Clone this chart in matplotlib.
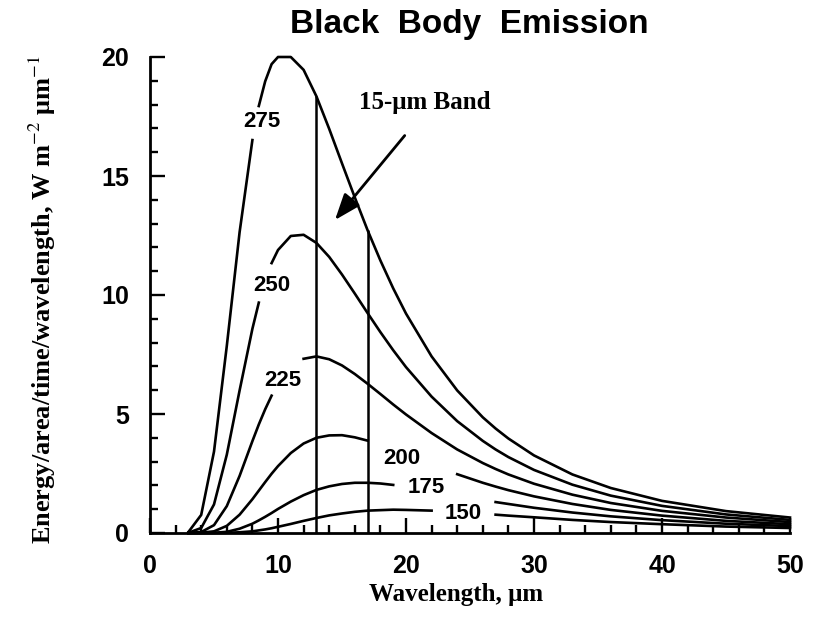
import matplotlib.pyplot as plt
import numpy as np
from matplotlib.ticker import MultipleLocator

plt.rcParams["mathtext.fontset"] = "stix"

# emission per unit wavelength, W m-2 um-1, read at each wavelength (um)
wavelength = [3, 4, 5, 6, 7, 8, 8.5, 9, 9.5, 10, 11, 12, 13, 14, 15, 16, 17, 18, 19, 20,
              22, 24, 26, 27, 28, 30, 33, 36, 40, 45, 50]
temps = [275, 250, 225, 200, 175, 150]
e275 = [0.04, 0.76, 3.42, 7.86, 12.64, 16.51, 17.94, 18.98, 19.70, 20.0, 20.0, 19.46, 18.35,
        16.98, 15.53, 14.10, 12.72, 11.45, 10.28, 9.22, 7.42, 5.99, 4.86, 4.39, 3.97, 3.26,
        2.46, 1.89, 1.35, 0.92, 0.65]
e250 = [0.01, 0.21, 1.20, 3.29, 5.99, 8.58, 9.68, 10.61, 11.34, 11.89, 12.48, 12.53, 12.19,
        11.60, 10.86, 10.06, 9.24, 8.44, 7.68, 6.97, 5.73, 4.70, 3.87, 3.51, 3.19, 2.65,
        2.03, 1.57, 1.14, 0.78, 0.55]
e225 = [0.0, 0.04, 0.33, 1.13, 2.40, 3.86, 4.56, 5.20, 5.77, 6.26, 6.96, 7.32, 7.42,
        7.30, 7.04, 6.68, 6.27, 5.84, 5.40, 4.98, 4.20, 3.51, 2.94, 2.69, 2.46, 2.07,
        1.61, 1.26, 0.93, 0.65, 0.46]
e200 = [0.0, 0.01, 0.07, 0.30, 0.77, 1.42, 1.78, 2.14, 2.49, 2.81, 3.36, 3.76, 4.00,
        4.10, 4.11, 4.02, 3.88, 3.71, 3.51, 3.29, 2.87, 2.47, 2.11, 1.95, 1.80, 1.54,
        1.22, 0.97, 0.73, 0.51, 0.37]
e175 = [0.0, 0.0, 0.01, 0.05, 0.18, 0.39, 0.53, 0.68, 0.84, 1.01, 1.32, 1.59, 1.81,
        1.96, 2.06, 2.11, 2.11, 2.08, 2.02, 1.95, 1.77, 1.58, 1.39, 1.30, 1.22, 1.06,
        0.86, 0.70, 0.54, 0.39, 0.29]
e150 = [0.0, 0.0, 0.0, 0.01, 0.03, 0.07, 0.11, 0.15, 0.20, 0.26, 0.38, 0.51, 0.63,
        0.74, 0.82, 0.89, 0.94, 0.96, 0.98, 0.97, 0.94, 0.88, 0.81, 0.77, 0.73, 0.66,
        0.55, 0.46, 0.37, 0.27, 0.21]
curves = [e275, e250, e225, e200, e175, e150]

# where each temperature is written, and the stretch of curve left open for it
label_pos = {275: (8.75, 17.3), 250: (9.55, 10.4), 225: (10.4, 6.4),
             200: (19.7, 3.15), 175: (21.6, 1.9), 150: (24.5, 0.8)}
label_gap = {275: (8, 8.5), 250: (8.5, 9.5), 225: (9.5, 12),
             200: (17, 24), 175: (19, 27), 150: (22, 27)}

band_edges = [13, 17]

wl = np.array(wavelength)

fig = plt.figure(figsize=(8.21, 6.2), dpi=100)
ax = fig.add_axes([150 / 821, 87 / 620, 640 / 821, 476 / 620])

for t, vals in zip(temps, curves):
    vals = np.array(vals)
    lo, hi = label_gap[t]
    left = wl <= lo
    right = wl >= hi
    ax.plot(wl[left], vals[left], color="black", lw=1.9, clip_on=False)
    ax.plot(wl[right], vals[right], color="black", lw=1.9, clip_on=False)
    x, y = label_pos[t]
    ax.text(x, y, str(t), ha="center", va="center", fontsize=16,
            fontweight="bold", family="Liberation Sans")

# edges of the 15-um band, up to the warmest curve
band_top = [e275[wavelength.index(b)] for b in band_edges]
ax.vlines(band_edges, 0, band_top, color="black", lw=1.8)

ax.annotate("", xy=(14.45, 13.15), xytext=(19.9, 16.7),
            arrowprops=dict(arrowstyle="-|>,head_length=0.8,head_width=0.3",
                            color="black", lw=2, mutation_scale=20,
                            shrinkA=0, shrinkB=0))
ax.text(21.5, 18.1, "15-μm Band", ha="center", va="center", fontsize=18,
        fontweight="bold", family="Liberation Serif")

ax.set_xlim(0, 50)
ax.set_ylim(0, 20)
ax.spines["top"].set_visible(False)
ax.spines["right"].set_visible(False)
ax.spines["left"].set_linewidth(2)
ax.spines["bottom"].set_linewidth(2)

ax.xaxis.set_major_locator(MultipleLocator(10))
ax.xaxis.set_minor_locator(MultipleLocator(2))
ax.yaxis.set_major_locator(MultipleLocator(5))
ax.yaxis.set_minor_locator(MultipleLocator(1))
ax.tick_params(which="both", direction="in", width=1.7)
ax.tick_params(which="major", length=11)
ax.tick_params(which="minor", length=5.5)
ax.tick_params(axis="y", which="major", pad=15)
ax.tick_params(axis="x", which="major", pad=15)
for lab in ax.get_xticklabels() + ax.get_yticklabels():
    lab.set_family("Liberation Sans")
    lab.set_fontweight("bold")
    lab.set_fontsize(18)

fig.text(469 / 821, 1 - 24 / 620, "Black  Body  Emission", ha="center", va="center",
         fontsize=24, fontweight="bold", family="Liberation Sans")
fig.text(456 / 821, 1 - 595 / 620, "Wavelength, μm", ha="center", va="center",
         fontsize=18, fontweight="bold", family="Liberation Serif")
fig.text(42 / 821, 1 - 300 / 620, r"Energy/area/time/wavelength, W m$^{-2}$ μm$^{-1}$",
         ha="center", va="center", rotation=90, fontsize=19, fontweight="bold",
         family="Liberation Serif")

fig.savefig("out.png", dpi=100)
